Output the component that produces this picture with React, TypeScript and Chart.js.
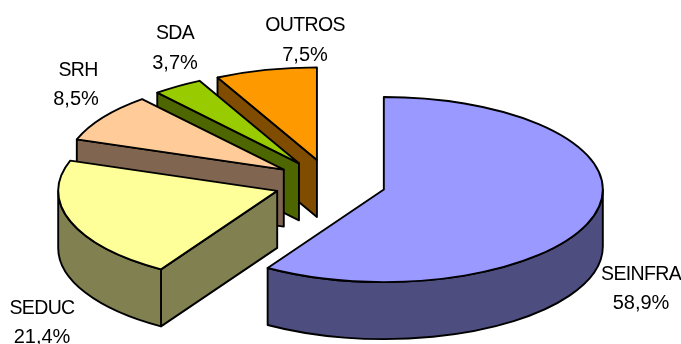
import React, { useEffect, useRef } from "react";
import { Chart, registerables } from "chart.js";

Chart.register(...registerables);

// Share of each item, in percent, clockwise from twelve o'clock
const categories = ["SEINFRA", "SEDUC", "SRH", "SDA", "OUTROS"];
const shares = [58.9, 21.4, 8.5, 3.7, 7.5];
const topColors = ["#9999FF", "#FFFF99", "#FFCC99", "#99CC00", "#FF9900"];
const wallColors = ["#4D4D80", "#808050", "#806650", "#4D6600", "#804D00"];

// Label anchors: [name x, name baseline, value x, value baseline]
const labelAnchors = [
  [641, 280, 641, 309],
  [42, 314, 42, 343],
  [78, 76, 76, 105],
  [175, 39, 175, 69],
  [305, 31, 305, 61],
];

const RADIUS = 219;
const TILT = 93 / 220; // vertical squash of the circular pie
const DEPTH = 57; // height of the extruded walls
const EXPLODE = 56; // how far each slice is pulled from the centre
const EDGE = 1.9;
const NAME_FONT = '19.5px "Liberation Sans", Arial, sans-serif';
const VALUE_FONT = '20px "Liberation Sans", Arial, sans-serif';

const formatShare = (v: number) => v.toFixed(1).replace(".", ",") + "%";

// Pseudo-3D painter: extrudes each arc and paints the slices from back to front.
const extrudedPie = {
  id: "extrudedPie",
  beforeDatasetsDraw(chart: any) {
    const ctx: CanvasRenderingContext2D = chart.ctx;
    const arcs = chart.getDatasetMeta(0).data;

    const outline = (fill: string) => {
      ctx.fillStyle = fill;
      ctx.fill();
      ctx.lineWidth = EDGE;
      ctx.strokeStyle = "#000";
      ctx.lineJoin = "round";
      ctx.stroke();
    };

    for (let i = arcs.length - 1; i >= 0; i--) {
      const arc = arcs[i];
      const { startAngle: s, endAngle: e, outerRadius: r } = arc;
      const mid = (s + e) / 2;
      const x = arc.x + Math.cos(mid) * EXPLODE;
      const y = arc.y + Math.sin(mid) * EXPLODE * TILT;
      const ry = r * TILT;

      const cutFace = (a: number) => {
        const px = x + Math.cos(a) * r;
        const py = y + Math.sin(a) * ry;
        ctx.beginPath();
        ctx.moveTo(x, y);
        ctx.lineTo(px, py);
        ctx.lineTo(px, py + DEPTH);
        ctx.lineTo(x, y + DEPTH);
        ctx.closePath();
        outline(wallColors[i]);
      };

      // Only faces turned toward the viewer get painted.
      if (Math.cos(s) < -1e-6) cutFace(s);
      if (Math.cos(e) > 1e-6) cutFace(e);

      const a0 = Math.max(s, 0);
      const a1 = Math.min(e, Math.PI);
      if (a1 > a0) {
        ctx.beginPath();
        ctx.ellipse(x, y, r, ry, 0, a0, a1);
        ctx.ellipse(x, y + DEPTH, r, ry, 0, a1, a0, true);
        ctx.closePath();
        outline(wallColors[i]);
      }

      // Top face: the library's arc element under a squashing transform.
      ctx.save();
      ctx.translate(x, y);
      ctx.scale(1, TILT);
      ctx.translate(-arc.x, -arc.y);
      arc.draw(ctx, chart.chartArea);
      ctx.restore();

      ctx.beginPath();
      ctx.moveTo(x, y);
      ctx.ellipse(x, y, r, ry, 0, s, e);
      ctx.closePath();
      ctx.lineWidth = EDGE;
      ctx.strokeStyle = "#000";
      ctx.lineJoin = "round";
      ctx.stroke();
    }
    return false;
  },
  afterDraw(chart: any) {
    const ctx: CanvasRenderingContext2D = chart.ctx;
    ctx.save();
    ctx.fillStyle = "#000";
    ctx.textAlign = "center";
    categories.forEach((name, i) => {
      const [nx, ny, vx, vy] = labelAnchors[i];
      ctx.font = NAME_FONT;
      (ctx as any).letterSpacing = "-0.65px";
      ctx.fillText(name, nx, ny);
      ctx.font = VALUE_FONT;
      (ctx as any).letterSpacing = "0px";
      ctx.fillText(formatShare(shares[i]), vx, vy);
    });
    ctx.restore();
  },
};

export default function App() {
  const ref = useRef<HTMLCanvasElement>(null);

  useEffect(() => {
    document.body.style.margin = "0";
    document.body.style.background = "#fff";
    const chart = new Chart(ref.current!, {
      type: "pie",
      data: {
        labels: categories,
        datasets: [
          {
            data: shares,
            backgroundColor: topColors,
            borderWidth: 0,
          },
        ],
      },
      options: {
        responsive: false,
        animation: false,
        events: [],
        radius: RADIUS,
        layout: { padding: { top: 22, right: 21 } },
        plugins: { legend: { display: false }, tooltip: { enabled: false } },
      },
      plugins: [extrudedPie],
    } as any);
    return () => chart.destroy();
  }, []);

  return <canvas ref={ref} width={681} height={344} style={{ display: "block" }} />;
}
